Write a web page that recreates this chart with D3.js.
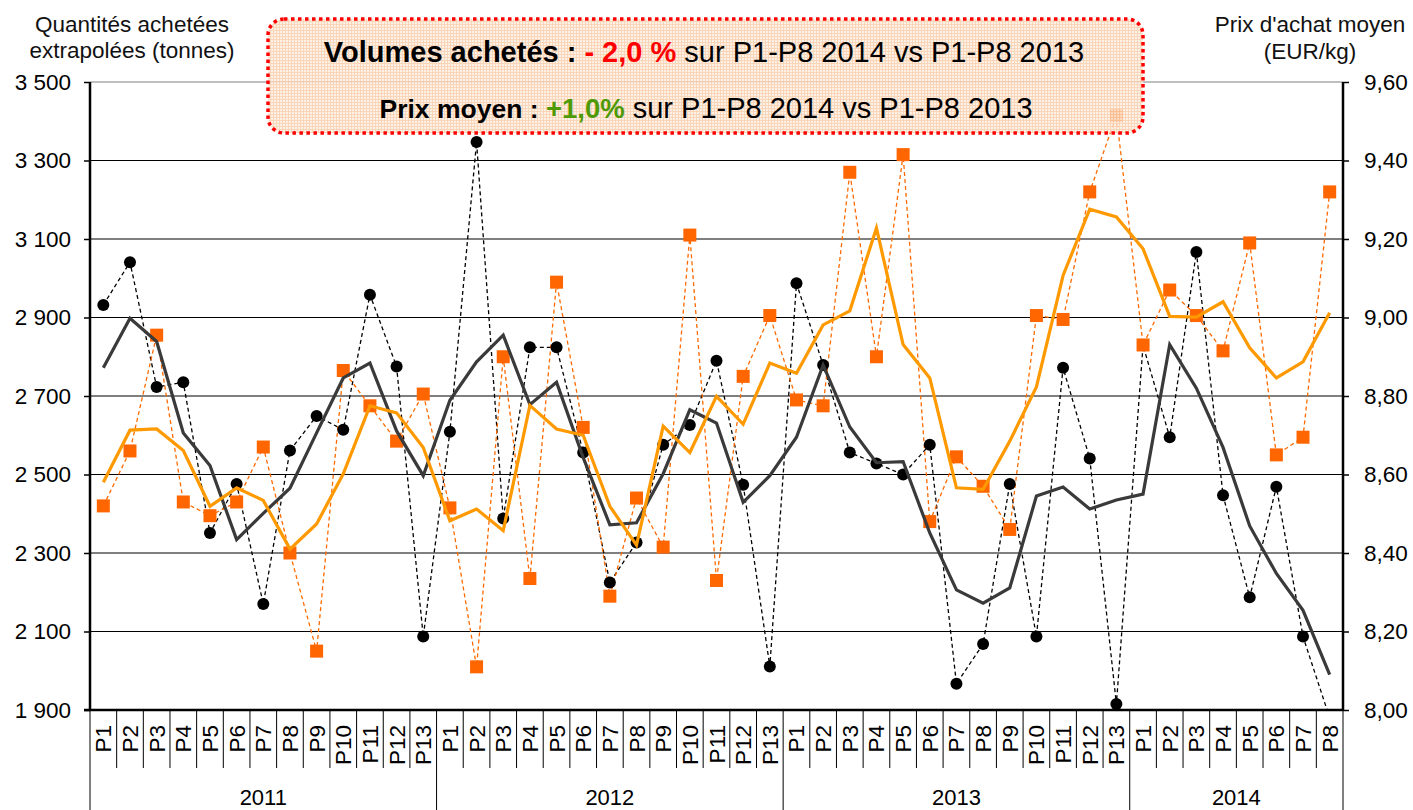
<!DOCTYPE html>
<html>
<head>
<meta charset="utf-8">
<script src="https://cdn.jsdelivr.net/npm/d3@7"></script>
<style>
  body { margin: 0; background: #fff; }
  svg { display: block; font-family: "Liberation Sans", Arial, sans-serif; }
</style>
</head>
<body>
<svg id="chart" width="1413" height="810"></svg>
<script>
// years and number of 4-week periods shown for each
const years = ["2011", "2012", "2013", "2014"];
const periodCounts = [13, 13, 13, 8];

// volumes achetés (tonnes) - points noirs
const volumes = [
  2932, 3041, 2723, 2735, 2351, 2476, 2170, 2561, 2649, 2614, 2958, 2775, 2087,
  2609, 3347, 2388, 2824, 2824, 2556, 2225, 2327, 2576, 2626, 2790, 2474, 2011,
  2987, 2779, 2556, 2528, 2500, 2576, 1967, 2068, 2476, 2087, 2772, 2541, 1915,
  2829, 2595, 3067, 2447, 2187, 2469, 2087, 1880
];
// tendance volumes - ligne grise
const volumeTrend = [
  2772, 2898, 2839, 2606, 2523, 2334, 2401, 2465, 2606, 2746, 2784, 2611, 2497,
  2689, 2787, 2855, 2678, 2735, 2543, 2372, 2377, 2502, 2665, 2631, 2429, 2497,
  2595, 2779, 2621, 2530, 2533, 2351, 2206, 2172, 2211, 2445, 2468, 2412, 2435,
  2450, 2831, 2720, 2569, 2369, 2248, 2154, 1990
];
// prix d'achat moyen (EUR/kg) - carrés orange
const prices = [
  8.52, 8.66, 8.955, 8.53, 8.495, 8.53, 8.67, 8.40, 8.15, 8.865, 8.775, 8.685, 8.805,
  8.515, 8.11, 8.90, 8.335, 9.09, 8.72, 8.29, 8.54, 8.415, 9.21, 8.33, 8.85, 9.005,
  8.79, 8.775, 9.37, 8.90, 9.415, 8.48, 8.645, 8.57, 8.46, 9.005, 8.995, 9.32, 9.515,
  8.93, 9.07, 9.005, 8.915, 9.19, 8.65, 8.695, 9.32
];
// tendance prix - ligne orange
const priceTrend = [
  8.58, 8.713, 8.716, 8.661, 8.519, 8.566, 8.534, 8.41, 8.474, 8.602, 8.775, 8.757, 8.669,
  8.482, 8.512, 8.457, 8.776, 8.716, 8.70, 8.519, 8.42, 8.723, 8.656, 8.799, 8.728, 8.884,
  8.858, 8.981, 9.017, 9.228, 8.931, 8.846, 8.566, 8.562, 8.685, 8.823, 9.107, 9.276, 9.256,
  9.175, 9.003, 9.001, 9.04, 8.923, 8.846, 8.887, 9.012
];

const volumeTicks = [1900, 2100, 2300, 2500, 2700, 2900, 3100, 3300, 3500];
const priceTicks = [8.0, 8.2, 8.4, 8.6, 8.8, 9.0, 9.2, 9.4, 9.6];

const categories = years.flatMap((y, i) =>
  d3.range(1, periodCounts[i] + 1).map(p => ({ year: y, label: "P" + p })));

const frLocale = d3.formatLocale({ decimal: ",", thousands: "\u00a0", grouping: [3], currency: ["", " €"] });
const fmtVol = frLocale.format(",d");
const fmtPrice = frLocale.format(".2f");

const plotLeft = 90, plotRight = 1343, plotTop = 82, plotBottom = 710;

const svg = d3.select("#chart");

const x = d3.scaleBand()
  .domain(d3.range(categories.length))
  .range([plotLeft, plotRight])
  .padding(0);
const yVol = d3.scaleLinear().domain([1900, 3500]).range([plotBottom, plotTop]);
const yPrice = d3.scaleLinear().domain([8.0, 9.6]).range([plotBottom, plotTop]);
const cx = i => x(i) + x.bandwidth() / 2;
const xEdge = i => i < categories.length ? x(i) : plotRight;

const defs = svg.append("defs");
defs.append("clipPath").attr("id", "plot")
  .append("rect").attr("x", plotLeft).attr("y", plotTop - 40)
  .attr("width", plotRight - plotLeft).attr("height", plotBottom - plotTop + 40);

// gridlines
svg.append("g")
  .selectAll("line")
  .data(volumeTicks)
  .join("line")
  .attr("x1", plotLeft).attr("x2", plotRight)
  .attr("y1", d => yVol(d)).attr("y2", d => yVol(d))
  .attr("stroke", d => d === 3500 ? "#808080" : "#000")
  .attr("stroke-width", 1.2);

// left axis
const axL = svg.append("g")
  .attr("transform", `translate(${plotLeft},0)`)
  .call(d3.axisLeft(yVol).tickValues(volumeTicks).tickFormat(fmtVol).tickSize(6).tickPadding(13));
axL.select(".domain").attr("stroke", "#000").attr("stroke-width", 2.5).attr("d", `M0,${plotTop}V${plotBottom}`);
axL.selectAll(".tick line").attr("stroke", "#000").attr("stroke-width", 1.5);
axL.selectAll(".tick text").attr("font-size", 22.5).attr("fill", "#000").attr("font-family", "Liberation Sans, Arial");

// right axis
const axR = svg.append("g")
  .attr("transform", `translate(${plotRight},0)`)
  .call(d3.axisRight(yPrice).tickValues(priceTicks).tickFormat(fmtPrice).tickSize(6).tickPadding(15));
axR.select(".domain").attr("stroke", "#000").attr("stroke-width", 2.5).attr("d", `M0,${plotTop}V${plotBottom}`);
axR.selectAll(".tick line").attr("stroke", "#000").attr("stroke-width", 1.5);
axR.selectAll(".tick text").attr("font-size", 22.5).attr("fill", "#000").attr("font-family", "Liberation Sans, Arial");

// category axis (periods + years)
const catAxis = svg.append("g");
catAxis.append("line")
  .attr("x1", plotLeft - 6).attr("x2", plotRight).attr("y1", plotBottom).attr("y2", plotBottom)
  .attr("stroke", "#000").attr("stroke-width", 2.5);
const yearStarts = d3.cumsum([0, ...periodCounts]).slice(0, -1);
const yearBoundaries = Array.from(d3.cumsum([0, ...periodCounts]));
catAxis.selectAll("line.sep")
  .data(d3.range(categories.length + 1).filter(i => !yearBoundaries.includes(i)))
  .join("line").attr("class", "sep")
  .attr("x1", xEdge).attr("x2", xEdge)
  .attr("y1", plotBottom).attr("y2", 768)
  .attr("stroke", "#000").attr("stroke-width", 1);
catAxis.selectAll("line.ysep")
  .data(yearBoundaries)
  .join("line").attr("class", "ysep")
  .attr("x1", xEdge).attr("x2", xEdge)
  .attr("y1", plotBottom).attr("y2", 810)
  .attr("stroke", "#000").attr("stroke-width", 1);
catAxis.selectAll("text.per")
  .data(categories)
  .join("text").attr("class", "per")
  .attr("transform", (d, i) => `translate(${cx(i) + 8},725) rotate(-90)`)
  .attr("text-anchor", "end")
  .attr("font-size", 22.5)
  .text(d => d.label);
catAxis.selectAll("text.year")
  .data(years)
  .join("text").attr("class", "year")
  .attr("x", (d, i) => (xEdge(yearStarts[i]) + xEdge(yearStarts[i] + periodCounts[i])) / 2)
  .attr("y", 805)
  .attr("text-anchor", "middle")
  .attr("font-size", 22)
  .text(d => d);

// series
const plot = svg.append("g").attr("clip-path", "url(#plot)");

const lineVol = d3.line().x((d, i) => cx(i)).y(d => yVol(d));
const linePrice = d3.line().x((d, i) => cx(i)).y(d => yPrice(d));

plot.append("path").datum(volumes)
  .attr("d", lineVol).attr("fill", "none")
  .attr("stroke", "#000").attr("stroke-width", 1.3).attr("stroke-dasharray", "4,3");
plot.append("path").datum(prices)
  .attr("d", linePrice).attr("fill", "none")
  .attr("stroke", "#ff6a00").attr("stroke-width", 1.3).attr("stroke-dasharray", "4,3");

plot.selectAll("circle.vol")
  .data(volumes)
  .join("circle").attr("class", "vol")
  .attr("cx", (d, i) => cx(i)).attr("cy", d => yVol(d))
  .attr("r", 6).attr("fill", "#000");

plot.selectAll("rect.price")
  .data(prices)
  .join("rect").attr("class", "price")
  .attr("x", (d, i) => cx(i) - 6.5).attr("y", d => yPrice(d) - 6.5)
  .attr("width", 13).attr("height", 13)
  .attr("fill", "#ff6600");

plot.append("path").datum(volumeTrend)
  .attr("d", lineVol).attr("fill", "none")
  .attr("stroke", "#3a3a3a").attr("stroke-width", 3.2);
plot.append("path").datum(priceTrend)
  .attr("d", linePrice).attr("fill", "none")
  .attr("stroke", "#ff9900").attr("stroke-width", 3.2);

// axis titles
const titleL = svg.append("text").attr("text-anchor", "middle").attr("font-size", 22.5).attr("fill", "#111");
titleL.append("tspan").attr("x", 132).attr("y", 32).text("Quantités achetées");
titleL.append("tspan").attr("x", 132).attr("y", 58).text("extrapolées (tonnes)");
const titleR = svg.append("text").attr("text-anchor", "middle").attr("font-size", 22.5).attr("fill", "#111");
titleR.append("tspan").attr("x", 1310).attr("y", 32).text("Prix d'achat moyen");
titleR.append("tspan").attr("x", 1310).attr("y", 59).text("(EUR/kg)");

// annotation box
const pat = defs.append("pattern").attr("id", "hatch")
  .attr("width", 3).attr("height", 3).attr("patternUnits", "userSpaceOnUse");
pat.append("rect").attr("width", 3).attr("height", 3).attr("fill", "#fdeee2");
pat.append("path").attr("d", "M0,0.5H3M0.5,0V3").attr("stroke", "#f8cfae").attr("stroke-width", 1);

svg.append("rect")
  .attr("x", 268).attr("y", 19).attr("width", 875).attr("height", 114)
  .attr("rx", 16).attr("ry", 16)
  .attr("fill", "url(#hatch)").attr("fill-opacity", 0.85)
  .attr("stroke", "#ff0000").attr("stroke-width", 3.5).attr("stroke-dasharray", "3.5,3.5");

const line1 = svg.append("text").attr("x", 704).attr("y", 62).attr("text-anchor", "middle").attr("font-size", 29);
line1.append("tspan").attr("font-weight", "bold").text("Volumes achetés : ");
line1.append("tspan").attr("font-weight", "bold").attr("fill", "#ff0000").text("- 2,0 %");
line1.append("tspan").text(" sur P1-P8 2014 vs P1-P8 2013");

const line2 = svg.append("text").attr("x", 706).attr("y", 118).attr("text-anchor", "middle").attr("font-size", 29);
line2.append("tspan").attr("font-weight", "bold").attr("font-size", 26.5).text("Prix moyen : ");
line2.append("tspan").attr("font-weight", "bold").attr("font-size", 27.5).attr("fill", "#4e9a06").text("+1,0%");
line2.append("tspan").text(" sur P1-P8 2014 vs P1-P8 2013");
</script>
</body>
</html>
